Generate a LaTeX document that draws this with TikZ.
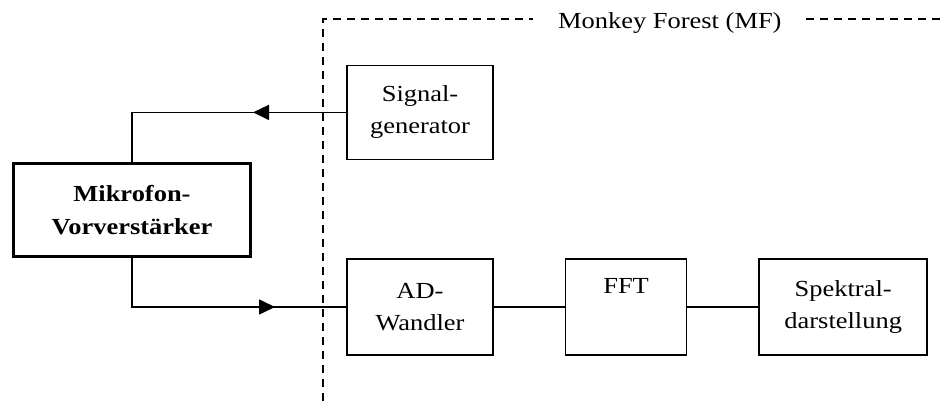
\documentclass[tikz,border=0pt]{standalone}
\usepackage{fontspec}
\setmainfont{Liberation Serif}[FakeStretch=1.15]
\usetikzlibrary{positioning, arrows.meta}
\tikzset{
  block/.style={rectangle, draw=black, line width=1.6pt, minimum height=96pt, align=center, inner sep=0pt},
  micblock/.style={rectangle, draw=black, line width=3.2pt, minimum width=237pt, minimum height=93pt, align=center, inner sep=0pt, font=\fontsize{23}{33}\selectfont\bfseries},
  line/.style={line width=1.6pt},
  arrow/.style={line width=1.6pt, -{Triangle[length=16pt, width=15pt]}},
  frame/.style={line width=1.6pt, dash pattern=on 8pt off 6pt}
}
\begin{document}
\begin{tikzpicture}[
        x=1pt, y=-1pt,
        node distance=71pt, % <-- Abstand zwischen den Bloecken
        every node/.style={font=\fontsize{23}{32}\selectfont}
    ]
        \useasboundingbox (0,0) rectangle (940,401);
        \node (ad) [block, minimum width=146pt] at (420,307) {AD-\\Wandler};
        \node (fft) [block, minimum width=121pt, right=of ad] {FFT\\\strut};
        \node (spek) [block, minimum width=168pt, right=of fft] {Spektral-\\darstellung};
        \node (sig) [block, minimum width=146pt, minimum height=94pt, above=98pt of ad] {Signal-\\generator};
        \node (mic) [micblock] at (132,210) {Mikrofon-\\Vorverstärker};

        % Rahmen Monkey Forest
        \node (mf) [anchor=base west, inner sep=0pt] at (558,29) {Monkey Forest (MF)};
        \coordinate (mfbot) at (323,401);
        \coordinate (mfl) at (533,19);
        \coordinate (mfr) at (806,19);
        \coordinate (mfend) at (940,19);
        \draw [frame] (mfbot) |- (mfl);
        \draw [frame] (mfr) -- (mfend);

        % Verbindungen
        \coordinate (tipsig) at (253,0);
        \coordinate (tipad) at (275,0);
        \draw [line] (sig.west) -| (mic.north);
        \draw [arrow] (sig.west) -- (sig.west -| tipsig);
        \draw [line] (mic.south) |- (ad.west);
        \draw [arrow] (mic.south |- ad.west) -- (tipad |- ad.west);
        \draw [line] (ad) -- (fft);
        \draw [line] (fft) -- (spek);
    \end{tikzpicture}
\end{document}
